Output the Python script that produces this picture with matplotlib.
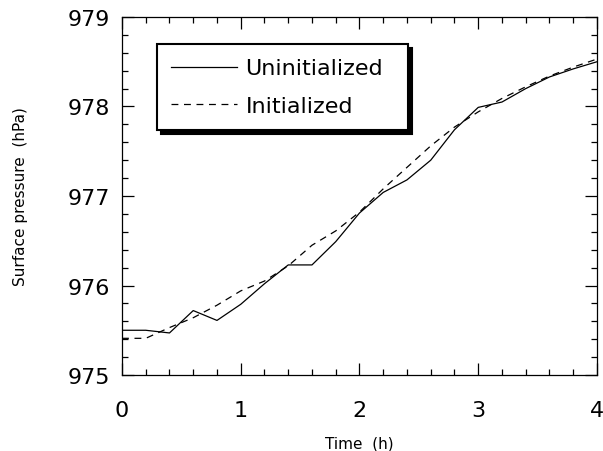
import numpy as np
import matplotlib
matplotlib.use("Agg")
import matplotlib.pyplot as plt
from matplotlib.ticker import MultipleLocator

# time (h), every 12 min
time_h = [0.0, 0.2, 0.4, 0.6, 0.8, 1.0, 1.2, 1.4, 1.6, 1.8, 2.0,
          2.2, 2.4, 2.6, 2.8, 3.0, 3.2, 3.4, 3.6, 3.8, 4.0]
# surface pressure (hPa)
p_uninit = [975.50, 975.50, 975.47, 975.72, 975.61, 975.79, 976.02, 976.23, 976.23, 976.49, 976.81,
            977.04, 977.18, 977.40, 977.74, 977.99, 978.05, 978.20, 978.33, 978.42, 978.50]
p_init = [975.41, 975.41, 975.53, 975.64, 975.78, 975.94, 976.05, 976.22, 976.45, 976.61, 976.82,
          977.08, 977.32, 977.56, 977.77, 977.94, 978.09, 978.22, 978.34, 978.44, 978.53]

plt.rcParams['font.family'] = ['DejaVu Sans']

fig = plt.figure(figsize=(6.03, 4.52), dpi=100)
ax = fig.add_axes([0.2023, 0.1681, 0.7877, 0.7921])

ax.plot(time_h, p_uninit, color='black', lw=0.9, label='Uninitialized')
ax.plot(time_h, p_init, color='black', lw=0.9, dashes=(5.5, 4.5), label='Initialized')

ax.set_xlim(0, 4)
ax.set_ylim(975, 979)
ax.xaxis.set_major_locator(MultipleLocator(1))
ax.xaxis.set_minor_locator(MultipleLocator(0.2))
ax.yaxis.set_major_locator(MultipleLocator(1))
ax.yaxis.set_minor_locator(MultipleLocator(0.2))

ax.tick_params(which='both', direction='in', top=True, right=True, width=0.9)
ax.tick_params(which='major', length=8.6)
ax.tick_params(which='minor', length=4.3)
ax.tick_params(axis='x', which='major', pad=18, labelsize=16)
ax.tick_params(axis='y', which='major', pad=8.6, labelsize=16)
for s in ax.spines.values():
    s.set_linewidth(0.9)

ax.set_xlabel('Time  (h)', fontsize=11)
ax.set_ylabel('Surface pressure  (hPa)', fontsize=11)
ax.xaxis.set_label_coords(0.5, -0.168)
ax.yaxis.set_label_coords(-0.198, 0.5)

leg = ax.legend(loc='upper left', bbox_to_anchor=(0.0737, 0.69, 0.5284, 0.2346),
                mode='expand', fontsize=16, frameon=True, fancybox=False,
                borderpad=0.65, labelspacing=0.78, handlelength=2.93, handletextpad=0.4,
                borderaxespad=0,
                shadow={'color': 'black', 'alpha': 1, 'ox': 3, 'oy': -3})
leg.get_frame().set_edgecolor('black')
leg.get_frame().set_linewidth(1.5)

fig.savefig('out.png', dpi=100, facecolor='white')
